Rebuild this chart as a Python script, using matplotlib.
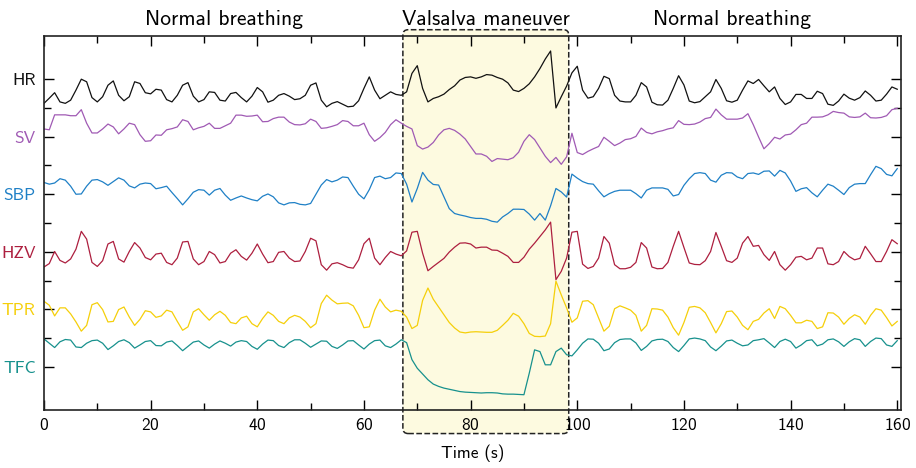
import matplotlib
matplotlib.use('Agg')
import matplotlib.pyplot as plt
from matplotlib.patches import FancyBboxPatch
import numpy as np

plt.rcParams['font.family'] = ['cmss10', 'DejaVu Sans']
plt.rcParams['axes.formatter.use_mathtext'] = True

# Zeit (s), ein Wert pro Sekunde
time = np.arange(0, 161)

# Signale (normiert, Abweichung von der jeweiligen Grundlinie)
hr = [-0.84, -0.66, -0.47, -0.79, -0.84, -0.73, -0.38, 0.0, -0.09, -0.64, -0.79,
      -0.61, -0.21, -0.06, -0.56, -0.75, -0.61, -0.09, -0.15, -0.47, -0.51,
      -0.35, -0.38, -0.71, -0.79, -0.56, -0.21, -0.12, -0.59, -0.79, -0.71,
      -0.44, -0.46, -0.73, -0.76, -0.50, -0.46, -0.64, -0.79, -0.59, -0.29,
      -0.44, -0.80, -0.73, -0.56, -0.50, -0.59, -0.71, -0.68, -0.56, -0.21,
      -0.13, -0.73, -0.96, -0.84, -0.78, -0.87, -0.96, -0.94, -0.75, -0.32,
      0.08, -0.38, -0.68, -0.56, -0.44, -0.53, -0.56, -0.44, 0.20, 0.47,
      -0.32, -0.79, -0.67, -0.61, -0.52, -0.36, -0.23, -0.03, 0.06, 0.08,
      0.03, 0.08, 0.16, 0.14, 0.06, 0.0, -0.13, -0.38, -0.43, -0.32,
      -0.16, 0.08, 0.37, 0.70, 0.98, -1.0, -0.61, -0.24, 0.22, 0.45,
      -0.38, -0.66, -0.61, -0.32, 0.10, 0.02, -0.56, -0.76, -0.79, -0.79,
      -0.56, -0.12, -0.27, -0.80, -0.89, -0.90, -0.73, -0.32, 0.12, -0.20,
      -0.76, -0.82, -0.78, -0.61, -0.44, -0.01, -0.32, -0.75, -0.80, -0.73,
      -0.38, -0.06, -0.15, -0.01, -0.23, -0.44, -0.27, -0.67, -0.88, -0.79,
      -0.53, -0.53, -0.67, -0.67, -0.42, -0.50, -0.87, -0.91, -0.76, -0.52,
      -0.66, -0.73, -0.64, -0.41, -0.56, -0.76, -0.73, -0.52, -0.27, -0.35]

sv = [0.27, 0.24, 0.76, 0.76, 0.76, 0.73, 0.73, 0.94, 0.47, 0.13, 0.13,
      0.27, 0.44, 0.34, 0.10, 0.27, 0.47, 0.42, 0.07, -0.16, -0.14,
      0.06, 0.05, 0.24, 0.28, 0.34, 0.59, 0.53, 0.24, 0.31, 0.36,
      0.47, 0.29, 0.29, 0.38, 0.47, 0.75, 0.75, 0.71, 0.72, 0.75,
      0.52, 0.53, 0.63, 0.68, 0.68, 0.51, 0.42, 0.41, 0.45, 0.61,
      0.53, 0.29, 0.31, 0.36, 0.42, 0.56, 0.53, 0.38, 0.38, 0.47,
      0.07, -0.16, -0.03, 0.15, 0.42, 0.59, 0.47, 0.36, 0.27, -0.31,
      -0.43, -0.36, -0.20, 0.06, 0.24, 0.29, 0.22, 0.09, -0.08, -0.34,
      -0.60, -0.60, -0.68, -0.86, -0.76, -0.78, -0.80, -0.73, -0.54, -0.16,
      0.07, -0.10, -0.39, -0.68, -0.90, -0.72, -0.96, -0.70, 0.12, -0.55,
      -0.62, -0.51, -0.42, -0.34, -0.02, -0.16, -0.31, -0.22, -0.10, -0.07,
      0.01, 0.30, 0.15, 0.10, 0.17, 0.21, 0.27, 0.31, 0.56, 0.43,
      0.42, 0.44, 0.51, 0.63, 0.67, 0.96, 0.76, 0.61, 0.61, 0.61,
      0.65, 0.80, 0.42, -0.01, -0.42, -0.24, -0.02, -0.08, 0.06, 0.09,
      0.24, 0.42, 0.47, 0.68, 0.68, 0.69, 0.76, 0.88, 0.84, 0.82,
      0.69, 0.67, 0.69, 0.82, 0.66, 0.65, 0.67, 0.73, 0.94, 0.99]

sbp = [0.41, 0.35, 0.39, 0.54, 0.49, 0.28, 0.0, 0.01, 0.28, 0.49, 0.51,
       0.43, 0.31, 0.44, 0.57, 0.49, 0.29, 0.22, 0.35, 0.39, 0.37,
       0.19, 0.23, 0.28, 0.06, -0.15, -0.37, -0.16, 0.07, 0.16, 0.14,
       -0.03, 0.14, 0.20, -0.03, -0.21, -0.13, -0.06, -0.13, -0.19, -0.23,
       -0.07, 0.01, -0.09, -0.30, -0.37, -0.30, -0.29, -0.35, -0.37, -0.32,
       0.0, 0.32, 0.51, 0.43, 0.49, 0.60, 0.58, 0.28, 0.0, -0.16,
       0.16, 0.58, 0.63, 0.54, 0.58, 0.74, 0.72, 0.35, -0.27, 0.20,
       0.76, 0.49, 0.34, 0.32, -0.09, -0.50, -0.67, -0.72, -0.76, -0.81,
       -0.84, -0.84, -0.87, -0.94, -0.97, -0.79, -0.67, -0.52, -0.52, -0.53,
       -0.69, -0.90, -0.67, -0.90, -0.40, 0.20, 0.08, -0.10, 0.70, 0.56,
       0.44, 0.37, 0.35, 0.12, -0.09, 0.02, 0.10, 0.14, 0.14, 0.14,
       0.02, -0.13, 0.14, 0.22, 0.22, 0.22, 0.17, -0.06, -0.01, 0.31,
       0.54, 0.72, 0.75, 0.72, 0.49, 0.42, 0.66, 0.75, 0.74, 0.60,
       0.54, 0.72, 0.74, 0.69, 0.80, 0.81, 0.63, 0.83, 0.74, 0.46,
       0.10, 0.19, 0.23, 0.05, -0.09, 0.14, 0.35, 0.28, 0.14, -0.01,
       0.23, 0.35, 0.37, 0.37, 0.68, 0.97, 0.89, 0.69, 0.64, 0.89]

hzv = [-0.53, -0.41, 0.01, -0.30, -0.39, -0.25, 0.09, 0.71, 0.44, -0.37, -0.51,
       -0.31, 0.27, 0.36, -0.25, -0.36, 0.01, 0.32, 0.13, -0.20, -0.28,
       -0.08, -0.05, -0.37, -0.45, -0.22, 0.34, 0.36, -0.25, -0.45, -0.34,
       0.01, -0.10, -0.39, -0.34, -0.05, 0.07, -0.16, -0.29, -0.05, 0.27,
       -0.08, -0.38, -0.34, -0.02, 0.01, -0.22, -0.34, -0.32, 0.01, 0.47,
       0.38, -0.45, -0.64, -0.42, -0.38, -0.45, -0.54, -0.57, -0.28, 0.28,
       0.47, -0.22, -0.45, -0.20, 0.01, -0.08, -0.14, 0.03, 0.68, 0.71,
       -0.05, -0.66, -0.51, -0.37, -0.23, -0.01, 0.16, 0.30, 0.31, 0.27,
       0.13, 0.16, 0.16, 0.06, 0.05, -0.05, -0.16, -0.37, -0.37, -0.19,
       0.09, 0.30, 0.53, 0.76, 1.03, -0.97, -0.68, -0.22, 0.68, 0.71,
       -0.43, -0.58, -0.51, -0.22, 0.53, 0.30, -0.45, -0.59, -0.59, -0.54,
       -0.37, 0.32, 0.13, -0.53, -0.59, -0.58, -0.37, 0.19, 0.71, 0.15,
       -0.39, -0.44, -0.45, -0.31, 0.01, 0.67, 0.19, -0.31, -0.37, -0.22,
       0.30, 0.53, 0.19, 0.22, -0.10, -0.30, 0.01, -0.45, -0.64, -0.45,
       -0.19, -0.16, -0.28, -0.22, 0.13, 0.13, -0.42, -0.45, -0.34, 0.01,
       -0.17, -0.28, -0.23, 0.19, -0.07, -0.34, -0.34, 0.01, 0.42, 0.28]

tpr = [0.28, 0.14, -0.23, 0.05, 0.05, -0.16, -0.44, -0.76, -0.56, 0.16, 0.23,
       -0.01, -0.44, -0.42, -0.01, 0.08, -0.27, -0.56, -0.35, -0.05, -0.09,
       -0.28, -0.23, -0.03, -0.09, -0.42, -0.73, -0.61, -0.09, 0.02, -0.19,
       -0.38, -0.19, -0.07, -0.21, -0.46, -0.50, -0.30, -0.24, -0.50, -0.61,
       -0.32, -0.09, -0.21, -0.42, -0.50, -0.30, -0.21, -0.27, -0.42, -0.64,
       -0.50, 0.20, 0.49, 0.32, 0.19, 0.21, 0.22, 0.12, -0.21, -0.64,
       -0.61, -0.03, 0.35, 0.08, -0.09, -0.03, -0.07, -0.27, -0.67, -0.56,
       0.31, 0.74, 0.35, 0.08, -0.19, -0.46, -0.65, -0.79, -0.82, -0.79,
       -0.78, -0.79, -0.80, -0.80, -0.73, -0.56, -0.38, -0.14, -0.24, -0.50,
       -0.84, -0.94, -0.95, -0.93, -0.50, 0.98, 0.50, 0.05, -0.45, -0.30,
       0.28, 0.30, 0.16, -0.30, -0.76, -0.59, 0.02, 0.12, 0.05, -0.03,
       -0.21, -0.76, -0.56, 0.02, 0.01, -0.03, -0.27, -0.64, -0.90, -0.46,
       0.07, 0.10, 0.05, -0.12, -0.46, -0.82, -0.50, -0.08, -0.06, -0.27,
       -0.56, -0.71, -0.42, -0.35, -0.13, 0.02, -0.32, 0.10, 0.02, -0.21,
       -0.47, -0.47, -0.38, -0.42, -0.67, -0.61, -0.12, -0.13, -0.27, -0.52,
       -0.32, -0.19, -0.27, -0.52, -0.21, 0.02, -0.03, -0.29, -0.58, -0.42]

tfc = [0.97, 0.82, 0.67, 0.87, 0.95, 0.93, 0.69, 0.67, 0.82, 0.91, 0.93,
       0.82, 0.60, 0.73, 0.88, 0.94, 0.84, 0.65, 0.76, 0.88, 0.91,
       0.74, 0.73, 0.86, 0.90, 0.74, 0.56, 0.71, 0.86, 0.90, 0.76,
       0.65, 0.79, 0.90, 0.82, 0.72, 0.86, 0.91, 0.88, 0.71, 0.61,
       0.79, 0.93, 0.91, 0.74, 0.67, 0.84, 0.94, 0.94, 0.82, 0.68,
       0.79, 0.90, 0.89, 0.71, 0.64, 0.76, 0.90, 0.91, 0.76, 0.62,
       0.79, 0.91, 0.93, 0.73, 0.67, 0.79, 0.94, 0.84, 0.25, -0.05,
       -0.25, -0.45, -0.60, -0.68, -0.74, -0.78, -0.82, -0.86, -0.88, -0.89,
       -0.90, -0.91, -0.90, -0.90, -0.91, -0.94, -0.95, -0.95, -0.96, -0.97,
       -0.22, 0.59, 0.53, 0.07, 0.07, 0.53, 0.65, 0.42, 0.38, 0.59,
       0.82, 0.97, 0.96, 0.82, 0.56, 0.62, 0.84, 0.95, 0.97, 0.97,
       0.83, 0.57, 0.71, 0.90, 0.95, 0.96, 0.88, 0.67, 0.53, 0.74,
       0.97, 1.00, 0.97, 0.91, 0.69, 0.56, 0.72, 0.90, 0.93, 0.82,
       0.73, 0.76, 0.91, 0.94, 0.98, 0.83, 0.67, 0.88, 0.96, 0.88,
       0.65, 0.76, 0.91, 0.94, 0.73, 0.79, 0.94, 0.97, 0.87, 0.71,
       0.87, 0.98, 0.94, 0.71, 0.88, 1.00, 0.98, 0.76, 0.71, 0.91]

names = ['HR', 'SV', 'SBP', 'HZV', 'TPR', 'TFC']
signals = [hr, sv, sbp, hzv, tpr, tfc]
colors = ['#111111', '#a05ab4', '#1f80c6', '#ad1f3f', '#f5cf0a', '#17918d']

# Valsalva-Abschnitt (s)
valsalva = (67.3, 98.4)

fig, ax = plt.subplots(figsize=(9.16, 4.68), dpi=100)
fig.subplots_adjust(left=0.048, right=0.9836, bottom=0.124, top=0.923)

n = len(names)
for i, (name, sig, col) in enumerate(zip(names, signals, colors)):
    base = 2 * (n - 1 - i)
    ax.plot(time, np.array(sig) + base, color=col, lw=0.9, zorder=3)

ax.set_xlim(0, 160.7)
ax.set_ylim(-1.5, 11.5)

# Hervorhebung
box = FancyBboxPatch((valsalva[0], -2.32), valsalva[1] - valsalva[0], 11.72 + 2.32,
                     boxstyle='round,pad=0,rounding_size=1.0', mutation_aspect=0.185,
                     facecolor='#fdfae0', edgecolor='#222222', lw=1.1, ls='--',
                     transform=ax.transData, clip_on=False, zorder=1)
ax.add_patch(box)

# Achsen
ax.set_xticks(range(0, 161, 20))
ax.set_xticks(range(10, 161, 20), minor=True)
ax.set_yticks(range(0, 11, 2))
ax.set_yticks(range(1, 11, 2), minor=True)
ax.set_yticklabels(names[::-1])
for lab, col in zip(ax.get_yticklabels(), colors[::-1]):
    lab.set_color(col)
ax.tick_params(which='both', direction='in', top=True, right=True)
ax.tick_params(axis='x', labelsize=12.5, pad=5)
ax.tick_params(axis='y', labelsize=12.5, pad=6)
ax.tick_params(which='major', length=7, width=1)
ax.tick_params(which='minor', length=5, width=1)
for s in ax.spines.values():
    s.set_linewidth(1.2)
    s.set_color('#222222')
    s.set_zorder(4)

ax.set_xlabel('Time (s)', fontsize=12.5, labelpad=8)

tr = ax.get_xaxis_transform()
ax.text(33.7, 1.03, 'Normal breathing', transform=tr, ha='center', va='baseline', fontsize=15.5)
ax.text(sum(valsalva) / 2, 1.03, 'Valsalva maneuver', transform=tr, ha='center', va='baseline', fontsize=15.5)
ax.text(129, 1.03, 'Normal breathing', transform=tr, ha='center', va='baseline', fontsize=15.5)

plt.savefig('out.png', dpi=100)
